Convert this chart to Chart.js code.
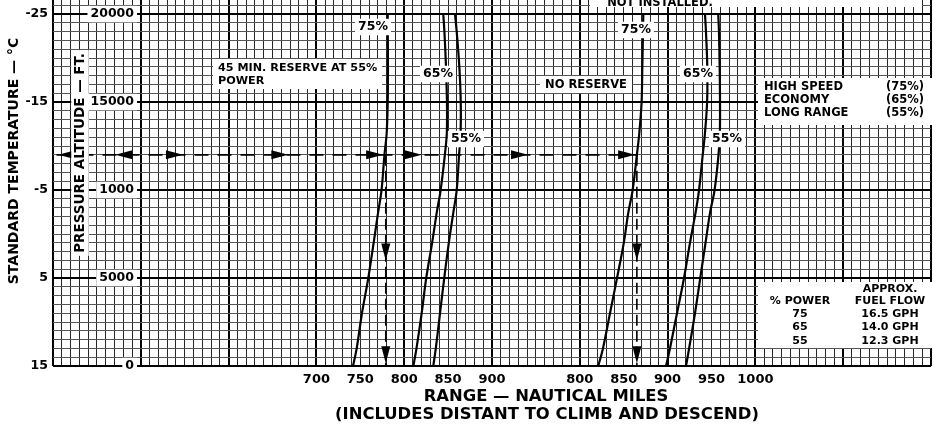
<!DOCTYPE html>
<html>
<head>
<meta charset="utf-8">
<title>Range profile</title>
<script src="https://cdn.jsdelivr.net/npm/chart.js@4.4.1/dist/chart.umd.min.js"></script>
<style>
    html, body { margin: 0; padding: 0; background: #fff; }
    #wrap { width: 933px; height: 427px; }
</style>
</head>
<body>
<div id="wrap"><canvas id="rangeChart" width="933" height="427"></canvas></div>
<script>
// Pressure altitude (ft) at which each curve was read
const altitudes = [0, 1000, 3000, 5000, 7000, 8700, 10000, 12000, 13200, 15000, 17000, 19000, 20000];

// Range (nm) with 45 min reserve at 55% power
const reserve75 = [741.7, 745.9, 751.9, 759.1, 765.2, 770.2, 774.2, 777.5, 780.0, 781.2, 781.5, 781.3, 781.2];
const reserve65 = [810.4, 814.0, 819.9, 825.1, 831.8, 837.0, 841.5, 846.3, 848.5, 848.7, 847.6, 845.8, 844.5];
const reserve55 = [833.1, 836.0, 840.8, 845.6, 850.8, 855.9, 859.8, 862.5, 864.2, 864.4, 862.8, 859.8, 857.9];

// Range (nm) with no reserve
const noReserve75 = [821.0, 826.4, 834.4, 842.4, 850.1, 855.2, 860.2, 865.0, 867.7, 870.4, 871.2, 872.0, 872.3];
const noReserve65 = [898.2, 902.7, 910.7, 918.7, 925.5, 931.8, 935.8, 940.0, 942.5, 945.0, 945.2, 943.7, 942.6];
const noReserve55 = [921.0, 924.5, 931.2, 937.2, 943.2, 948.3, 953.5, 958.0, 959.5, 959.7, 959.3, 958.5, 957.7];

// x axis: the no reserve scale sits 200 nm to the right of the reserve scale
const reserveTicks = [700, 750, 800, 850, 900];
const noReserveTicks = [800, 850, 900, 950, 1000];
const noReserveShift = 200;

// y axis
const altitudeTicks = [0, 5000, 10000, 15000, 20000];
const altitudeTickLabels = ['0', '5000', '1000', '15000', '20000'];
const temperatureTickLabels = ['15', '5', '-5', '-15', '-25'];

// worked example
const exampleAltitude = 12000;
const exampleReserveRange = 779;
const exampleNoReserveRange = 865;
const guideStart = 404;
const guideArrowsLeft = [406, 471];
const guideArrowsRight = [548, 668, 776, 820, 941, 1063];
const dropArrowAltitudes = [6000, 150];

// side tables
const cruiseModes = ['HIGH SPEED', 'ECONOMY', 'LONG RANGE'];
const cruisePowers = ['(75%)', '(65%)', '(55%)'];
const powerSettings = ['75', '65', '55'];
const fuelFlows = ['16.5 GPH', '14.0 GPH', '12.3 GPH'];

const FONT = '"DejaVu Sans", sans-serif';

function toPoints(ranges, shift) {
    return ranges.map((r, i) => ({ x: r + shift, y: altitudes[i] }));
}

function curve(ranges, shift) {
    return {
        data: toPoints(ranges, shift),
        showLine: true,
        borderColor: '#000',
        borderWidth: 2.2,
        pointRadius: 0,
        tension: 0.35,
        borderCapStyle: 'round',
        borderJoinStyle: 'round'
    };
}

function guide(points, dash) {
    return {
        data: points,
        showLine: true,
        borderColor: '#000',
        borderWidth: 1.6,
        borderDash: dash,
        pointRadius: 0
    };
}

function arrowHead(ctx, tx, ty, dir) {
    const len = 17, half = 4.5;
    ctx.beginPath();
    ctx.moveTo(tx, ty);
    if (dir === 'left') {
        ctx.lineTo(tx + len, ty - half);
        ctx.lineTo(tx + len, ty + half);
    } else if (dir === 'right') {
        ctx.lineTo(tx - len, ty - half);
        ctx.lineTo(tx - len, ty + half);
    } else {
        ctx.lineTo(tx - half, ty - len);
        ctx.lineTo(tx + half, ty - len);
    }
    ctx.closePath();
    ctx.fill();
}

function whiteBox(ctx, x0, y0, x1, y1) {
    ctx.fillStyle = '#fff';
    ctx.fillRect(x0, y0, x1 - x0, y1 - y0);
    ctx.fillStyle = '#000';
}

function boxedText(ctx, text, x, y, size, align) {
    ctx.font = 'bold ' + size + 'px ' + FONT;
    const w = ctx.measureText(text).width;
    const left = align === 'right' ? x - w : align === 'left' ? x : x - w / 2;
    whiteBox(ctx, left - 3, y - size / 2 - 2, left + w + 3, y + size / 2 + 2);
    ctx.textAlign = align || 'center';
    ctx.fillText(text, x, y);
}

function plainText(ctx, text, x, y, size, align) {
    ctx.font = 'bold ' + size + 'px ' + FONT;
    ctx.textAlign = align || 'center';
    ctx.fillText(text, x, y);
}

const notesPlugin = {
    id: 'notes',
    afterDatasetsDraw(chart) {
        const ctx = chart.ctx;
        const xs = chart.scales.x;
        const ys = chart.scales.y;
        const gy = ys.getPixelForValue(exampleAltitude);
        ctx.save();
        ctx.fillStyle = '#000';
        ctx.textBaseline = 'middle';

        // arrowheads on the worked example
        guideArrowsLeft.forEach(v => arrowHead(ctx, xs.getPixelForValue(v), gy, 'left'));
        guideArrowsRight.forEach(v => arrowHead(ctx, xs.getPixelForValue(v), gy, 'right'));
        [exampleReserveRange, exampleNoReserveRange + noReserveShift].forEach(r => {
            dropArrowAltitudes.forEach(a => arrowHead(ctx, xs.getPixelForValue(r), ys.getPixelForValue(a), 'down'));
        });

        // altitude labels inside the grid
        altitudeTicks.forEach((a, i) => {
            boxedText(ctx, altitudeTickLabels[i], 134, ys.getPixelForValue(a), 12.5, 'right');
        });

        // pressure altitude title
        ctx.save();
        ctx.translate(80, 153);
        ctx.rotate(-Math.PI / 2);
        boxedText(ctx, 'PRESSURE ALTITUDE — FT.', 0, 0, 13.5, 'center');
        ctx.restore();

        // curve labels
        [['75%', 373, 27], ['65%', 438, 74], ['55%', 466, 139],
         ['75%', 636, 30], ['65%', 698, 74], ['55%', 727, 139]].forEach(l => {
            boxedText(ctx, l[0], l[1], l[2], 12.5, 'center');
        });

        // reserve note
        whiteBox(ctx, 213, 59, 382, 89);
        plainText(ctx, '45 MIN. RESERVE AT 55%', 218, 68, 11.2, 'left');
        plainText(ctx, 'POWER', 218, 81, 11.2, 'left');

        whiteBox(ctx, 540, 76, 632, 93);
        plainText(ctx, 'NO RESERVE', 586, 85, 11.5, 'center');

        whiteBox(ctx, 590, 0, 922, 7);
        ctx.textBaseline = 'alphabetic';
        plainText(ctx, 'NOT INSTALLED.', 660, 5.5, 11.5, 'center');
        ctx.textBaseline = 'middle';

        // cruise mode table
        whiteBox(ctx, 758, 78, 933, 125);
        cruiseModes.forEach((m, i) => {
            plainText(ctx, m, 764, 87 + i * 13, 11.5, 'left');
            plainText(ctx, cruisePowers[i], 924, 87 + i * 13, 11.5, 'right');
        });

        // fuel flow table
        whiteBox(ctx, 758, 282, 933, 348);
        plainText(ctx, 'APPROX.', 890, 289, 11, 'center');
        plainText(ctx, '% POWER', 800, 301, 11, 'center');
        plainText(ctx, 'FUEL FLOW', 890, 301, 11, 'center');
        powerSettings.forEach((p, i) => {
            plainText(ctx, p, 800, 314 + i * 13.5, 11, 'center');
            plainText(ctx, fuelFlows[i], 890, 314 + i * 13.5, 11, 'center');
        });
        ctx.restore();
    },
    afterDraw(chart) {
        const ctx = chart.ctx;
        ctx.save();
        ctx.fillStyle = '#000';
        ctx.textBaseline = 'middle';
        plainText(ctx, 'RANGE — NAUTICAL MILES', 546, 397, 16.4, 'center');
        plainText(ctx, '(INCLUDES DISTANT TO CLIMB AND DESCEND)', 547, 415, 16.4, 'center');
        ctx.translate(14, 161);
        ctx.rotate(-Math.PI / 2);
        plainText(ctx, 'STANDARD TEMPERATURE — °C', 0, 0, 14, 'center');
        ctx.restore();
    }
};

const rangeChart = new Chart(document.getElementById('rangeChart'), {
    type: 'scatter',
    data: {
        datasets: [
            curve(reserve75, 0),
            curve(reserve65, 0),
            curve(reserve55, 0),
            curve(noReserve75, noReserveShift),
            curve(noReserve65, noReserveShift),
            curve(noReserve55, noReserveShift),
            guide([{ x: guideStart, y: exampleAltitude }, { x: exampleNoReserveRange + noReserveShift, y: exampleAltitude }], [14, 9]),
            guide([{ x: exampleReserveRange, y: exampleAltitude }, { x: exampleReserveRange, y: 0 }], [11, 5]),
            guide([{ x: exampleNoReserveRange + noReserveShift, y: exampleAltitude }, { x: exampleNoReserveRange + noReserveShift, y: 0 }], [11, 5])
        ]
    },
    options: {
        responsive: false,
        animation: false,
        devicePixelRatio: 1,
        layout: { padding: { left: 0, right: 2, top: 0, bottom: 0 } },
        plugins: {
            legend: { display: false },
            tooltip: { enabled: false }
        },
        scales: {
            x: {
                type: 'linear',
                min: 400,
                max: 1400,
                border: { display: false },
                grid: {
                    drawTicks: false,
                    color: c => Math.round(c.tick.value) % 100 === 0 ? '#000' : '#262626',
                    lineWidth: c => Math.round(c.tick.value) % 100 === 0 ? 2 : 1
                },
                ticks: {
                    stepSize: 10,
                    autoSkip: false,
                    maxRotation: 0,
                    minRotation: 0,
                    padding: 6,
                    color: '#000',
                    font: { family: FONT, size: 13, weight: 'bold' },
                    callback: value => {
                        const v = Math.round(value);
                        if (reserveTicks.includes(v)) return String(v);
                        if (noReserveTicks.includes(v - noReserveShift)) return String(v - noReserveShift);
                        return '';
                    }
                },
                afterFit: scale => {
                    scale.height = 61;
                    scale.paddingLeft = 0;
                    scale.paddingRight = 0;
                }
            },
            y: {
                type: 'linear',
                min: 0,
                max: 20800,
                border: { display: false },
                grid: {
                    drawTicks: false,
                    color: c => Math.round(c.tick.value) % 5000 === 0 ? '#000' : '#555',
                    lineWidth: c => Math.round(c.tick.value) % 5000 === 0 ? 2 : 1
                },
                ticks: {
                    autoSkip: false,
                    padding: 5,
                    color: '#000',
                    font: { family: FONT, size: 12.5, weight: 'bold' },
                    callback: value => {
                        const i = altitudeTicks.indexOf(Math.round(value));
                        return i >= 0 ? temperatureTickLabels[i] : '';
                    }
                },
                // one grid line every 500 ft, from the axis up to 20500 ft
                afterBuildTicks: scale => {
                    const ticks = [];
                    for (let v = 0; v <= 20500; v += 500) ticks.push({ value: v });
                    scale.ticks = ticks;
                },
                afterFit: scale => {
                    scale.width = 53;
                    scale.paddingTop = 0;
                    scale.paddingBottom = 0;
                }
            }
        }
    },
    plugins: [notesPlugin]
});
</script>
</body>
</html>
